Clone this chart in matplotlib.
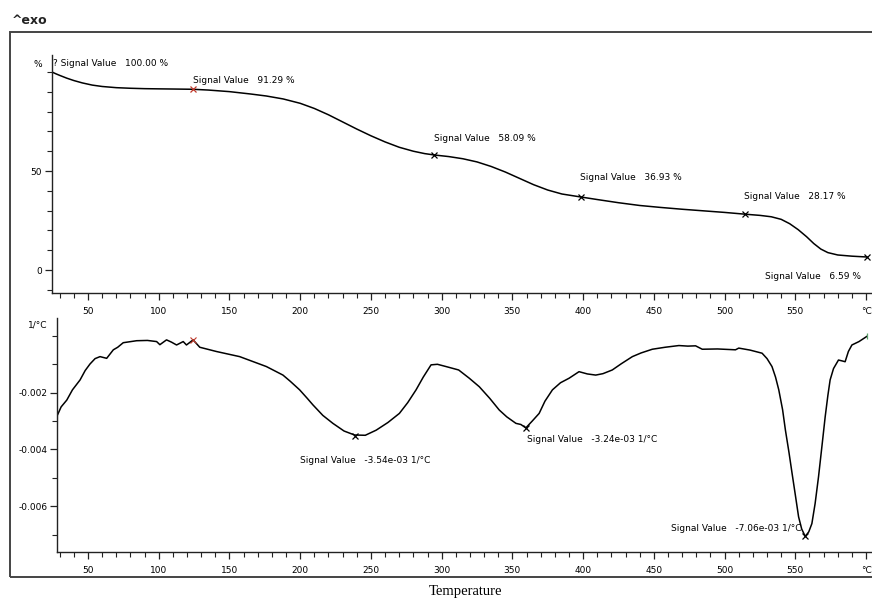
import matplotlib
matplotlib.use('Agg')
import matplotlib.pyplot as plt
from matplotlib.patches import Rectangle
from matplotlib.ticker import MultipleLocator, FixedLocator, FixedFormatter

# TGA curve (mass %)
tgaTemp = [24.6, 27, 30, 35, 40, 46, 53, 60, 70, 80, 90, 100, 112, 124, 135, 150, 165, 176,
           188, 200, 210, 220, 230, 240, 250, 260, 270, 280, 288, 295, 305, 315, 325, 335,
           345, 355, 365, 375, 385, 398, 410, 425, 440, 455, 470, 485, 500, 515, 525, 533,
           540, 546, 552, 558, 563, 568, 573, 580, 590, 600.5]
tgaMass = [100.0, 99.2, 98.3, 96.9, 95.7, 94.5, 93.4, 92.7, 92.1, 91.8, 91.6, 91.5, 91.4, 91.29,
           90.9, 90.1, 88.9, 87.9, 86.4, 84.2, 81.6, 78.4, 74.8, 71.2, 67.8, 64.7, 62.0, 60.0,
           58.8, 58.09, 57.3, 56.2, 54.6, 52.3, 49.5, 46.3, 43.1, 40.4, 38.4, 36.93, 35.6, 34.0,
           32.6, 31.6, 30.7, 29.9, 29.1, 28.17, 27.6, 26.9, 25.6, 23.4, 20.4, 16.8, 13.4, 10.6,
           8.8, 7.6, 7.0, 6.59]

# DTG curve (1e-3 1/°C)
dtgTemp = [28.1, 28.3, 31, 35, 39, 44.4, 48, 51.4, 55, 58.5, 63.2, 67.9, 71, 74.9, 84.4, 92,
           98.5, 100.8, 105.5, 109, 112.6, 117.3, 119.6, 124.3, 129, 140.8, 157.2, 176.1, 187.8,
           193, 199.6, 205, 209, 216, 223.1, 231, 238.4, 246, 253.7, 262, 270.1, 276, 281.9,
           287, 292.5, 297, 303.1, 312, 319.5, 326.6, 334, 340.7, 346, 352.5, 356, 359.5,
           364, 368.9, 373, 378.3, 384, 390.1, 397.1, 403, 408.9, 414, 420.6, 427, 434.8,
           441, 448.9, 458, 467.7, 474, 479.5, 484.2, 495, 507.7, 510, 518, 526.5, 530,
           533.5, 536, 538.3, 541, 543, 545.5, 547.7, 550, 552.3, 554.5, 557, 559.5, 561.7,
           564, 566.4, 569, 571.1, 573, 574.6, 577, 580.5, 583, 585.2, 587.5, 590, 595, 600.5]
dtgRate = [-4.3, -2.8, -2.5, -2.26, -1.9, -1.55, -1.22, -0.99, -0.8, -0.73, -0.79, -0.49, -0.4,
           -0.24, -0.17, -0.16, -0.2, -0.31, -0.14, -0.22, -0.32, -0.2, -0.32, -0.14, -0.4, -0.55,
           -0.73, -1.08, -1.38, -1.6, -1.9, -2.2, -2.43, -2.8, -3.08, -3.35, -3.49, -3.5, -3.32,
           -3.05, -2.73, -2.35, -1.9, -1.45, -1.02, -1.0, -1.08, -1.2, -1.49, -1.79, -2.2,
           -2.61, -2.85, -3.08, -3.12, -3.24, -3.0, -2.73, -2.3, -1.9, -1.65, -1.49, -1.26,
           -1.34, -1.38, -1.33, -1.2, -0.98, -0.73, -0.6, -0.47, -0.4, -0.34, -0.36, -0.35,
           -0.47, -0.46, -0.49, -0.43, -0.5, -0.61, -0.8, -1.08, -1.45, -1.9, -2.6, -3.32,
           -4.1, -4.84, -5.6, -6.37, -6.8, -7.06, -6.9, -6.61, -5.9, -4.96, -3.8, -2.85,
           -2.1, -1.55, -1.15, -0.85, -0.88, -0.91, -0.55, -0.32, -0.2, -0.02]

# marked points and their labels
tgaMarkT = [124, 294.8, 398.3, 514.7, 600.5]
tgaMarkV = [91.29, 58.09, 36.93, 28.17, 6.59]
tgaMarkColor = ['#c0392b', 'black', 'black', 'black', 'black']
tgaLabels = ['? Signal Value   100.00 %', 'Signal Value   91.29 %', 'Signal Value   58.09 %',
             'Signal Value   36.93 %', 'Signal Value   28.17 %', 'Signal Value   6.59 %']
dtgMarkT = [238.8, 359.5, 557]
dtgMarkV = [-3.54, -3.24, -7.06]
dtgLabels = ['Signal Value   -3.54e-03 1/°C', 'Signal Value   -3.24e-03 1/°C',
             'Signal Value   -7.06e-03 1/°C']

xTicks = list(range(50, 601, 50))
xTickLabels = [str(t) for t in xTicks[:-1]] + ['°C']

W, H = 872, 603
fig = plt.figure(figsize=(W / 100, H / 100), dpi=100)

def px_axes(left, top, right, bottom):
    return fig.add_axes([left / W, 1 - bottom / H, (right - left) / W, (bottom - top) / H])

def style(ax):
    for s in ['top', 'right']:
        ax.spines[s].set_visible(False)
    for s in ['left', 'bottom']:
        ax.spines[s].set_color('#222222')
        ax.spines[s].set_linewidth(1.0)
    ax.xaxis.set_major_locator(FixedLocator(xTicks))
    ax.xaxis.set_major_formatter(FixedFormatter(xTickLabels))
    ax.xaxis.set_minor_locator(MultipleLocator(10))
    ax.tick_params(which='major', length=5, width=0.9, labelsize=6.5, color='#222222', pad=5)
    ax.tick_params(which='minor', length=3.5, width=0.8, color='#222222')
    ax.tick_params(axis='y', pad=2)

# upper panel: mass
ax1 = px_axes(52, 55, 872, 293)
ax1.plot(tgaTemp, tgaMass, color='black', lw=1.1)
for t, v, c in zip(tgaMarkT, tgaMarkV, tgaMarkColor):
    ax1.plot(t, v, marker='x', color=c, ms=5, mew=0.9, clip_on=False)
ax1.set_xlim(24.55, 604.2)
ax1.set_ylim(-11.6, 108.6)
ax1.yaxis.set_major_locator(FixedLocator([0, 50]))
ax1.yaxis.set_minor_locator(MultipleLocator(10))
style(ax1)
ax1.text(-0.012, 104, '%', transform=ax1.get_yaxis_transform(), ha='right', va='center', fontsize=6.5)
txtPos1 = [(25.5, 104.5), (124, 95.5), (294.5, 66.5), (397.5, 46.5), (514, 37), (528.5, -3.2)]
for (x, y), s in zip(txtPos1, tgaLabels):
    ax1.text(x, y, s, fontsize=6.5, ha='left', va='center')

# lower panel: derivative
ax2 = px_axes(57, 318, 872, 552)
ax2.plot(dtgTemp, [r * 1e-3 for r in dtgRate], color='black', lw=1.1)
for t, v in zip(dtgMarkT, dtgMarkV):
    ax2.plot(t, v * 1e-3, marker='x', color='black', ms=5, mew=0.9)
ax2.plot(124.3, -0.14e-3, marker='x', color='#c0392b', ms=4, mew=0.8)
ax2.plot(600.5, -0.02e-3, marker='|', color='#5aa06a', ms=5, mew=0.9, clip_on=False)
ax2.set_xlim(28.08, 604.2)
ax2.set_ylim(-7.61e-3, 0.63e-3)
ax2.yaxis.set_major_locator(FixedLocator([-0.006, -0.004, -0.002]))
ax2.yaxis.set_major_formatter(FixedFormatter(['-0.006', '-0.004', '-0.002']))
ax2.yaxis.set_minor_locator(MultipleLocator(0.001))
style(ax2)
ax2.text(-0.012, 0.4e-3, '1/°C', transform=ax2.get_yaxis_transform(), ha='right', va='center', fontsize=6.5)
txtPos2 = [(200, -4.4e-3), (360.5, -3.66e-3), (462, -6.77e-3)]
for (x, y), s in zip(txtPos2, dtgLabels):
    ax2.text(x, y, s, fontsize=6.5, ha='left', va='center')

# outer frame (right side runs off the picture) and captions
fig.patches.append(Rectangle((10 / W, 1 - 577 / H), 870 / W, 545 / H, transform=fig.transFigure,
                             fill=False, edgecolor='#444444', lw=1.4))
fig.text(12 / W, 1 - 20 / H, '^exo', fontsize=9, fontweight='bold', color='#222222', ha='left', va='center')
fig.text(465 / W, 1 - 592 / H, 'Temperature', fontsize=10.5, family='Liberation Serif', ha='center', va='center')

plt.savefig('out.png', dpi=100)
